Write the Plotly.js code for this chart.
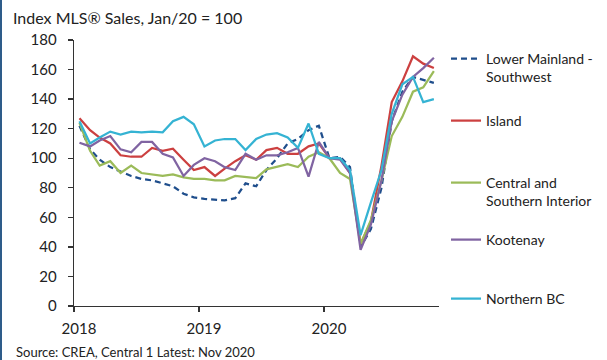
<!DOCTYPE html>
<html><head><meta charset="utf-8">
<script src="https://cdn.plot.ly/plotly-3.0.1.min.js"></script>
<style>
html,body{margin:0;padding:0;background:#fff;}
#wrap{width:605px;height:360px;border-left:2px solid #2E5C8A;}
#chart{width:605px;height:360px;}
</style></head><body>
<div id="wrap"><div id="chart"></div></div>
<script>
const months = [
  '2018-01-01','2018-02-01','2018-03-01','2018-04-01','2018-05-01','2018-06-01','2018-07-01','2018-08-01','2018-09-01','2018-10-01','2018-11-01','2018-12-01',
  '2019-01-01','2019-02-01','2019-03-01','2019-04-01','2019-05-01','2019-06-01','2019-07-01','2019-08-01','2019-09-01','2019-10-01','2019-11-01','2019-12-01',
  '2020-01-01','2020-02-01','2020-03-01','2020-04-01','2020-05-01','2020-06-01','2020-07-01','2020-08-01','2020-09-01','2020-10-01','2020-11-01'
];
const lowerMainland = [122, 106, 99, 94, 91, 88, 86, 85, 83, 81, 76, 73.5, 72.5, 72, 71.5, 73, 83, 81, 92, 100, 110, 113, 119, 122, 100, 101, 94, 40, 52, 80, 125, 145, 155, 153, 151];
const island = [127, 119, 114, 110, 102, 101, 101, 107, 105, 106.5, 99, 92, 94, 88, 93, 98, 102, 99, 105.5, 107, 103, 103, 108, 110, 100, 100, 90, 42, 57, 95, 138, 152, 169, 164, 161];
const centralSouthern = [124, 105, 95, 98, 90, 95, 90, 89, 88, 89, 87, 86, 86, 85, 85, 88, 87.5, 86.5, 92.5, 94, 96, 94, 101, 104, 100, 90, 86, 42, 58, 85, 115, 128, 145, 148, 159];
const kootenay = [110.5, 108, 112, 115, 106, 104, 111, 111, 103, 100.6, 88, 95.5, 100, 98, 94, 92, 103, 99, 102, 102, 104, 107, 87.5, 111, 100, 99, 90, 38, 55, 85, 125, 143, 155, 161, 168];
const northernBC = [125, 110, 114, 118, 116, 118, 117.5, 118, 117.5, 125, 128, 123, 108, 112, 113, 113, 105.5, 113, 116, 117, 114, 107, 123.5, 103, 100, 100, 92, 48, 70, 92, 130, 150, 155, 138, 140];

const seriesNames = ['Lower Mainland -<br>Southwest', 'Island', 'Central and<br>Southern Interior', 'Kootenay', 'Northern BC'];
const seriesColors = ['#1F4E8C', '#CC4040', '#9BBB59', '#8064A2', '#35B3D3'];
const xTickVals = ['2017-12-16', '2018-12-16', '2019-12-16'];
const xTickText = ['2018', '2019', '2020'];
const yTickVals = [0, 20, 40, 60, 80, 100, 120, 140, 160, 180];

const allSeries = [lowerMainland, island, centralSouthern, kootenay, northernBC];
const legendIds = ['legend', 'legend2', 'legend3', 'legend4', 'legend5'];
const legendTops = [43, 105, 167, 224, 283];

const FONT = 'Lato, "Open Sans", sans-serif';

const traces = allSeries.map((vals, i) => ({
  type: 'scatter', mode: 'lines',
  x: months, y: vals,
  name: seriesNames[i],
  legend: legendIds[i],
  line: {color: seriesColors[i], width: 2.25, dash: i === 0 ? '6px,4px' : 'solid'},
  hoverinfo: 'skip'
}));

const W = 605, H = 360;
const layout = {
  width: W, height: H,
  margin: {l: 72, r: 168, t: 40, b: 54},
  paper_bgcolor: '#fff', plot_bgcolor: '#fff',
  font: {family: FONT, size: 14, color: '#222'},
  title: {text: 'Index MLS® Sales, Jan/20 = 100', font: {family: FONT, size: 16, color: '#222'},
          x: 11 / W, xanchor: 'left', xref: 'container', y: 1 - 18 / H, yanchor: 'middle', yref: 'container'},
  xaxis: {
    type: 'date', range: ['2017-12-16', '2020-11-16'],
    tickvals: xTickVals, ticktext: xTickText, ticklabelshift: 5,
    ticks: 'outside', ticklen: 5, tickwidth: 1.3, tickcolor: '#333',
    showline: true, linecolor: '#333', linewidth: 1.3,
    showgrid: false, zeroline: false, ticklabelstandoff: 4,
    tickfont: {family: FONT, size: 15, color: '#222'}, fixedrange: true
  },
  yaxis: {
    range: [0, 180], tickvals: yTickVals,
    ticks: 'outside', ticklen: 5, tickwidth: 1.3, tickcolor: '#333',
    showline: true, linecolor: '#333', linewidth: 1.3,
    showgrid: false, zeroline: false, ticklabelstandoff: 8,
    tickfont: {family: FONT, size: 15, color: '#222'}, fixedrange: true
  },
  annotations: [{
    text: 'Source: CREA, Central 1 Latest: Nov 2020', showarrow: false,
    xref: 'paper', yref: 'paper', x: -60 / 363, y: -46 / 266, xanchor: 'left', yanchor: 'middle',
    font: {family: FONT, size: 13, color: '#222'}
  }],
  showlegend: true
};
legendIds.forEach((id, i) => {
  layout[id] = {
    xref: 'container', yref: 'container', x: 444 / W, y: 1 - legendTops[i] / H,
    xanchor: 'left', yanchor: 'top', valign: 'top', bgcolor: 'rgba(0,0,0,0)',
    font: {family: FONT, size: 14, color: '#222'}, itemclick: false, itemdoubleclick: false
  };
});

Plotly.newPlot('chart', traces, layout, {displayModeBar: false, staticPlot: true});
</script>
</body></html>
